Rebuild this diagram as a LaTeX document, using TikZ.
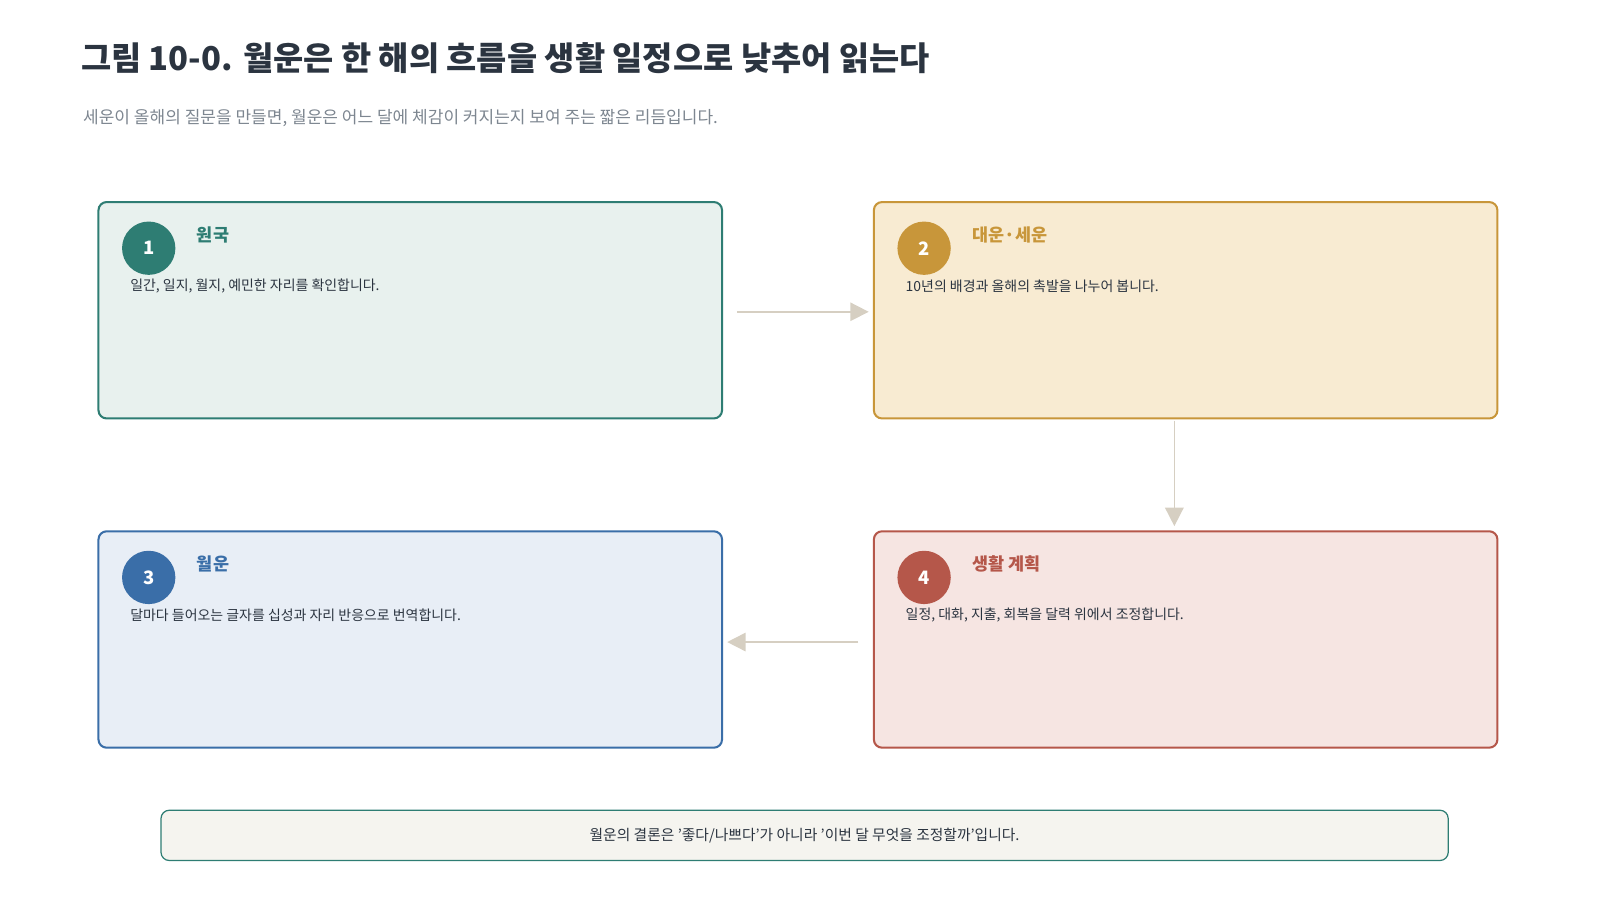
\documentclass[tikz,border=0pt]{standalone}
\usepackage{fontspec}
\setmainfont{Noto Sans CJK KR}
\usetikzlibrary{arrows.meta,positioning}
\definecolor{ink}{HTML}{2B3440}
\definecolor{subgray}{HTML}{7D8690}
\definecolor{teal}{HTML}{2E7D73}
\definecolor{tealbg}{HTML}{E8F1EE}
\definecolor{gold}{HTML}{C8963A}
\definecolor{goldbg}{HTML}{F8EBD2}
\definecolor{blue}{HTML}{3A6EA8}
\definecolor{bluebg}{HTML}{E8EEF6}
\definecolor{rust}{HTML}{B5574A}
\definecolor{rustbg}{HTML}{F6E5E2}
\definecolor{flow}{HTML}{D6CFC2}
\definecolor{notebg}{HTML}{F5F4EF}
\begin{document}
\begin{tikzpicture}[x=0.5pt,y=-0.5pt,
  stage box/.style={draw=#1,line width=1pt,rounded corners=4pt,minimum width=304pt,minimum height=105.5pt,anchor=north west},
  num node/.style={circle,fill=#1,minimum size=26pt,inner sep=0pt,text=white,font=\bfseries\fontsize{9}{9}\selectfont},
  head text/.style={anchor=west,text=#1,font=\bfseries\fontsize{8.5}{10}\selectfont},
  body text/.style={anchor=west,text=ink,font=\fontsize{6.8}{8}\selectfont},
  flow arrow/.style={draw=flow,line width=0.8pt,-{Triangle[length=9pt,width=9pt]}}]
  \useasboundingbox (0,0) rectangle (1560,877.5);
  \node[anchor=west,text=ink,font=\bfseries\fontsize{16}{18}\selectfont] (title) at (72,57) {그림 10-0. 월운은 한 해의 흐름을 생활 일정으로 낮추어 읽는다};
  \node[anchor=west,text=subgray,font=\fontsize{8.3}{10}\selectfont] (sub) at (74,115) {세운이 올해의 질문을 만들면, 월운은 어느 달에 체감이 커지는지 보여 주는 짧은 리듬입니다.};

  % stage 1
  \node[stage box=teal,fill=tealbg] (b1) at (95,196) {};
  \node[num node=teal] (n1) at (145,242) {1};
  \node[head text=teal] (h1) at (185,229) {원국};
  \node[body text] (t1) at (120,279) {일간, 일지, 월지, 예민한 자리를 확인합니다.};
  % stage 2
  \node[stage box=gold,fill=goldbg] (b2) at (851,196) {};
  \node[num node=gold] (n2) at (901,242) {2};
  \node[head text=gold] (h2) at (941,229) {대운·세운};
  \node[body text] (t2) at (876,279) {10년의 배경과 올해의 촉발을 나누어 봅니다.};
  % stage 3
  \node[stage box=blue,fill=bluebg] (b3) at (95,517) {};
  \node[num node=blue] (n3) at (145,563) {3};
  \node[head text=blue] (h3) at (185,550) {월운};
  \node[body text] (t3) at (120,600) {달마다 들어오는 글자를 십성과 자리 반응으로 번역합니다.};
  % stage 4
  \node[stage box=rust,fill=rustbg] (b4) at (851,517) {};
  \node[num node=rust] (n4) at (901,563) {4};
  \node[head text=rust] (h4) at (941,550) {생활 계획};
  \node[body text] (t4) at (876,600) {일정, 대화, 지출, 회복을 달력 위에서 조정합니다.};

  \coordinate (a1) at (719,304);
  \coordinate (a2) at (847,304);
  \coordinate (a3) at (1145,410);
  \coordinate (a4) at (1145,513);
  \coordinate (a5) at (837,626);
  \coordinate (a6) at (709,626);
  \draw[flow arrow] (a1) -- (a2);
  \draw[flow arrow] (a3) -- (a4);
  \draw[flow arrow] (a5) -- (a6);

  \node[draw=teal,fill=notebg,line width=0.6pt,rounded corners=4pt,minimum width=627.5pt,minimum height=24.5pt,text=ink,font=\fontsize{7.2}{9}\selectfont] (note) at (784.5,814.5) {월운의 결론은 \symbol{39}좋다/나쁘다\symbol{39}가 아니라 \symbol{39}이번 달 무엇을 조정할까\symbol{39}입니다.};
\end{tikzpicture}
\end{document}
